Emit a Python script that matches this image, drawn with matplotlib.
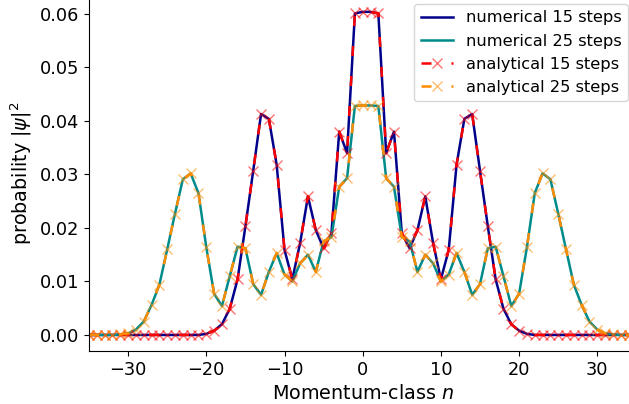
import numpy as np
import matplotlib
matplotlib.use("Agg")
import matplotlib.pyplot as plt

n = list(range(-35, 36))

p15 = [0, 0, 0, 0, 0, 0, 0, 0, 0, 0, 0, 0, 0, 0, 0,
       0.0002, 0.0008, 0.0020, 0.0049, 0.0104, 0.0203, 0.0307, 0.0413, 0.0404,
       0.0318, 0.0159, 0.0104, 0.0172, 0.0259, 0.0196, 0.0162, 0.0190, 0.0380,
       0.0340, 0.0601, 0.0604, 0.0604, 0.0601, 0.0340, 0.0380, 0.0190, 0.0162,
       0.0196, 0.0259, 0.0172, 0.0104, 0.0159, 0.0318, 0.0404, 0.0413, 0.0307,
       0.0203, 0.0104, 0.0049, 0.0020, 0.0008, 0.0002,
       0, 0, 0, 0, 0, 0, 0, 0, 0, 0, 0, 0, 0, 0]

p25 = [0, 0, 0, 0,
       0.0001, 0.0003, 0.0010, 0.0025, 0.0056, 0.0094, 0.0160, 0.0227, 0.0291,
       0.0302, 0.0265, 0.0164, 0.0077, 0.0054, 0.0110, 0.0165, 0.0162, 0.0095,
       0.0075, 0.0118, 0.0153, 0.0113, 0.0100, 0.0134, 0.0150, 0.0118, 0.0175,
       0.0183, 0.0277, 0.0293, 0.0428, 0.0429, 0.0429, 0.0428, 0.0293, 0.0277,
       0.0183, 0.0175, 0.0118, 0.0150, 0.0134, 0.0100, 0.0113, 0.0153, 0.0118,
       0.0075, 0.0095, 0.0162, 0.0165, 0.0110, 0.0054, 0.0077, 0.0164, 0.0265,
       0.0302, 0.0291, 0.0227, 0.0160, 0.0094, 0.0056, 0.0025, 0.0010, 0.0003,
       0.0001, 0, 0, 0]

yticks = [0.00, 0.01, 0.02, 0.03, 0.04, 0.05, 0.06]
xticks = [-30, -20, -10, 0, 10, 20, 30]

fig = plt.figure(figsize=(6.29, 4.04), dpi=100)
ax = fig.add_axes([89 / 629, 53 / 404, 547.4 / 629, 355.2 / 404])

ax.plot(n, p15, color='#00008B', lw=1.8, label='numerical 15 steps')
ax.plot(n, p25, color='#008B8B', lw=1.8, label='numerical 25 steps')
ax.plot(n, p15, color='red', lw=1.8, linestyle=(0, (4, 8)), marker='x',
        ms=6.5, mec=(1, 0, 0, 0.55), mew=1.0, label='analytical 15 steps')
ax.plot(n, p25, color='darkorange', lw=1.8, linestyle=(0, (4, 8)), marker='x',
        ms=6.5, mec=(1, 0.55, 0, 0.55), mew=1.0, label='analytical 25 steps')

ax.set_xlim(-35, 35)
ax.set_ylim(-0.003, 0.0634)
ax.set_xticks(xticks)
ax.set_yticks(yticks)
ax.set_yticklabels([f"{v:.2f}" for v in yticks])
ax.tick_params(labelsize=12.8)
ax.set_xlabel(r'Momentum-class $n$', fontsize=13.8)
ax.set_ylabel(r'probability $|\psi|^2$', fontsize=13.8)
ax.legend(loc='upper right', fontsize=11.7)

fig.savefig('out.png', dpi=100)
